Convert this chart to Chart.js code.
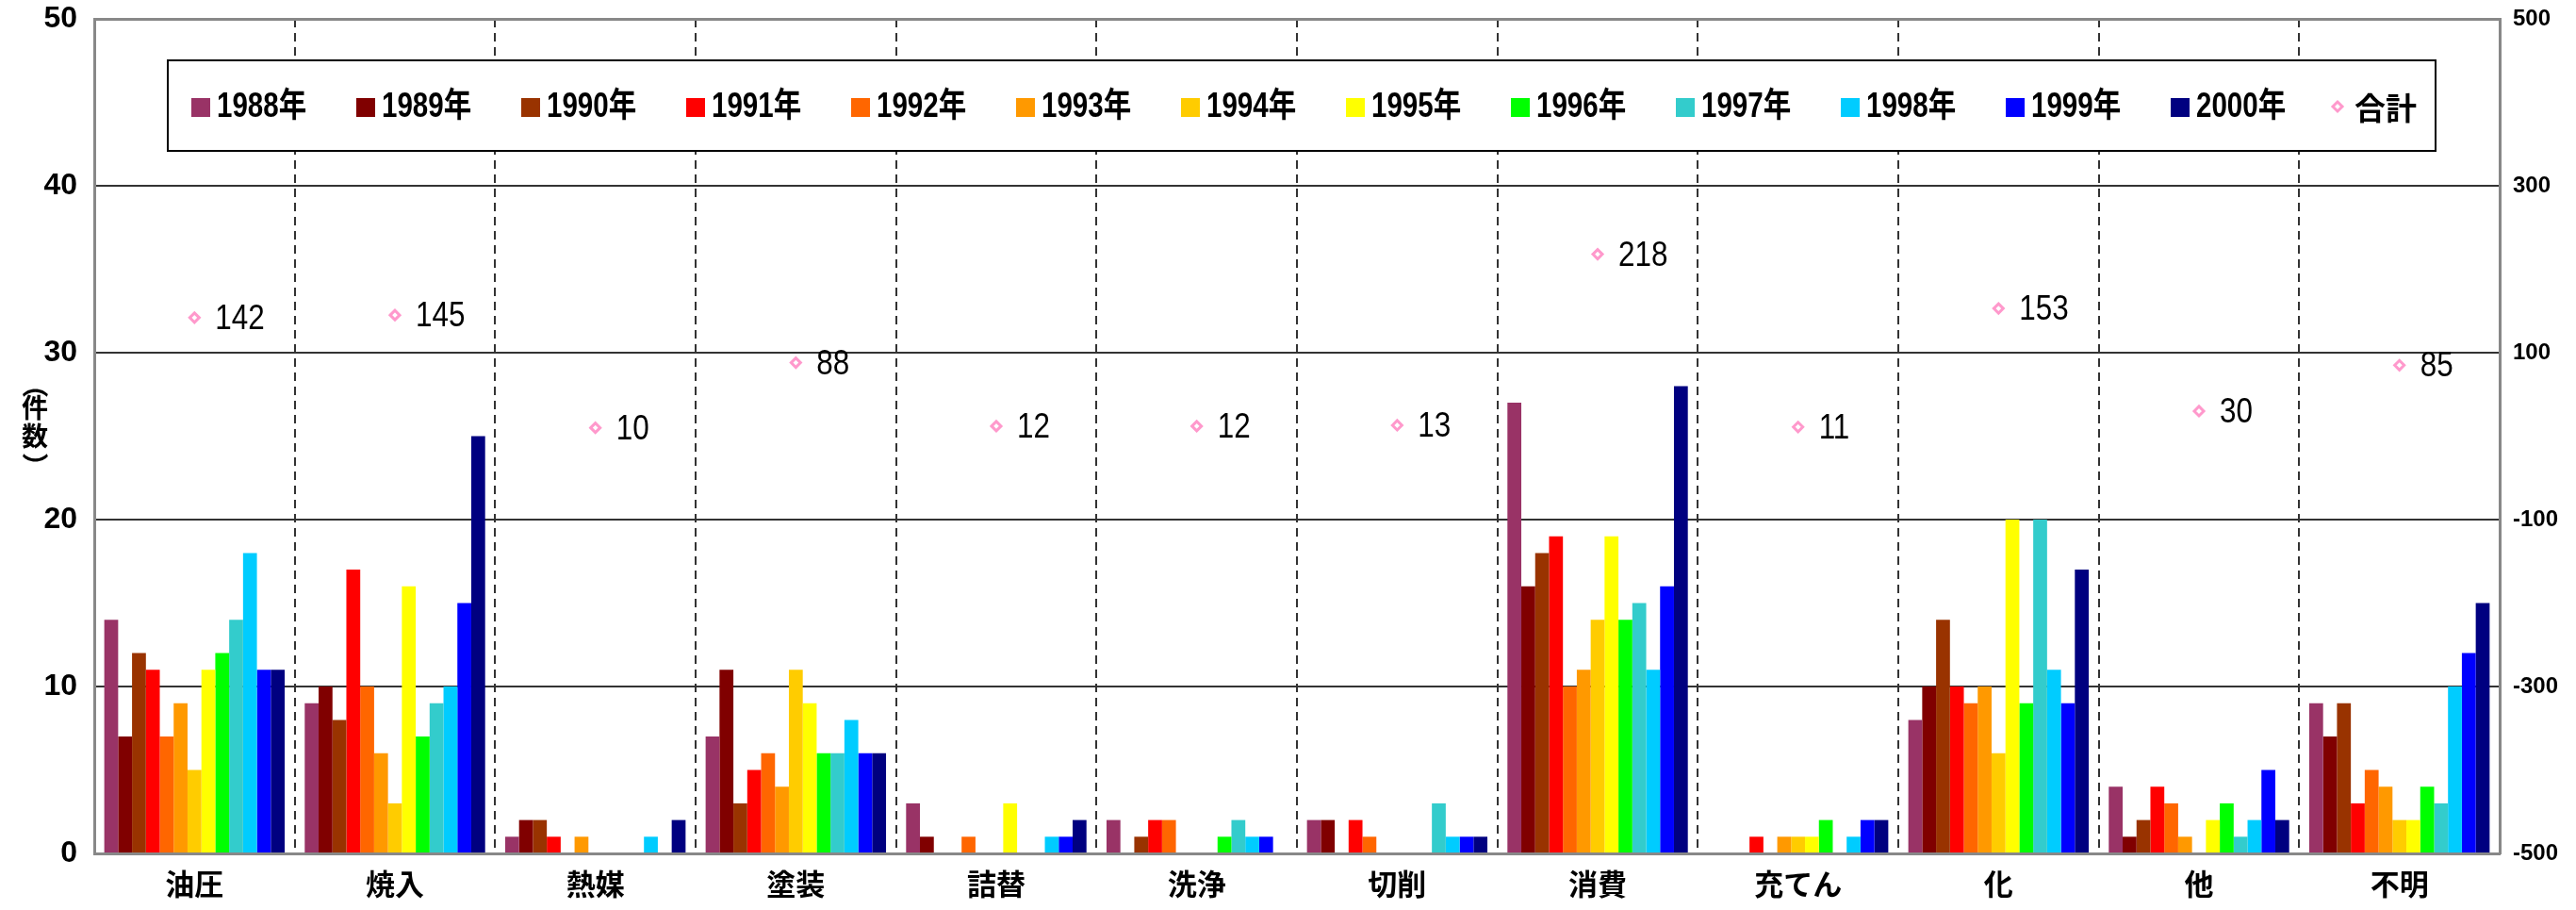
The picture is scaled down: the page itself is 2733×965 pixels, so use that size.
<!DOCTYPE html>
<html>
<head>
<meta charset="utf-8">
<script src="https://cdn.jsdelivr.net/npm/chart.js@4.4.0/dist/chart.umd.min.js"></script>
<style>
  body { margin: 0; background: #fff; }
  canvas { display: block; }
</style>
</head>
<body>
<canvas id="myChart" width="2733" height="965"></canvas>
<script>
// categories and series
const categories = ['油圧', '焼入', '熱媒', '塗装', '詰替', '洗浄', '切削', '消費', '充てん', '化', '他', '不明'];
const years = ['1988年', '1989年', '1990年', '1991年', '1992年', '1993年', '1994年', '1995年', '1996年', '1997年', '1998年', '1999年', '2000年'];
const yearColors = ['#993366', '#800000', '#993300', '#FF0000', '#FF6600', '#FF9900', '#FFCC00', '#FFFF00', '#00FF00', '#33CCCC', '#00CCFF', '#0000FF', '#000080'];

const y1988 = [14, 9, 1, 7, 3, 2, 2, 27, 0, 8, 4, 9];
const y1989 = [7, 10, 2, 11, 1, 0, 2, 16, 0, 10, 1, 7];
const y1990 = [12, 8, 2, 3, 0, 1, 0, 18, 0, 14, 2, 9];
const y1991 = [11, 17, 1, 5, 0, 2, 2, 19, 1, 10, 4, 3];
const y1992 = [7, 10, 0, 6, 1, 2, 1, 10, 0, 9, 3, 5];
const y1993 = [9, 6, 1, 4, 0, 0, 0, 11, 1, 10, 1, 4];
const y1994 = [5, 3, 0, 11, 0, 0, 0, 14, 1, 6, 0, 2];
const y1995 = [11, 16, 0, 9, 3, 0, 0, 19, 1, 20, 2, 2];
const y1996 = [12, 7, 0, 6, 0, 1, 0, 14, 2, 9, 3, 4];
const y1997 = [14, 9, 0, 6, 0, 2, 3, 15, 0, 20, 1, 3];
const y1998 = [18, 10, 1, 8, 1, 1, 1, 11, 1, 11, 2, 10];
const y1999 = [11, 15, 0, 6, 1, 1, 1, 16, 2, 9, 5, 12];
const y2000 = [11, 25, 2, 6, 2, 0, 1, 28, 2, 17, 2, 15];
const totals = [142, 145, 10, 88, 12, 12, 13, 218, 11, 153, 30, 85];

const leftTicks = [0, 10, 20, 30, 40, 50];
const rightTicks = [-500, -300, -100, 100, 300, 500];

const yearData = [y1988, y1989, y1990, y1991, y1992, y1993, y1994, y1995, y1996, y1997, y1998, y1999, y2000];

const numFont = '"Liberation Sans", Arial, sans-serif';
const cjkFont = '"Liberation Sans", "Noto Sans CJK JP", sans-serif';

const datasets = years.map((y, i) => ({
  type: 'bar',
  label: y,
  data: yearData[i],
  backgroundColor: yearColors[i],
  borderWidth: 0,
  categoryPercentage: 0.9,
  barPercentage: 1.0,
  yAxisID: 'y',
  order: 2
}));

datasets.push({
  type: 'line',
  label: '合計',
  data: totals,
  yAxisID: 'y1',
  showLine: false,
  pointStyle: 'rectRot',
  pointRadius: 5,
  pointBorderWidth: 3,
  pointBorderColor: '#FF99CC',
  pointBackgroundColor: '#FFFFFF',
  order: 1
});

// narrow-looking text
function narrowText(ctx, txt, x, y, sx) {
  ctx.save();
  ctx.translate(x, y);
  ctx.scale(sx, 1);
  ctx.fillText(txt, 0, 0);
  ctx.restore();
}

// legend box, y title and labels for totals
const extras = {
  id: 'extras',
  afterDatasetsDraw(chart) {
    const ctx = chart.ctx;
    ctx.save();

    // labels next to total points
    const meta = chart.getDatasetMeta(datasets.length - 1);
    ctx.fillStyle = '#000';
    ctx.font = '37px ' + numFont;
    ctx.textAlign = 'left';
    ctx.textBaseline = 'middle';
    meta.data.forEach((pt, i) => {
      narrowText(ctx, String(totals[i]), pt.x + 22, pt.y + 2, 0.85);
    });

    // legend
    ctx.fillStyle = '#fff';
    ctx.fillRect(178, 64, 2406, 96);
    ctx.strokeStyle = '#000';
    ctx.lineWidth = 2;
    ctx.strokeRect(178, 64, 2406, 96);
    ctx.font = 'bold 36px ' + cjkFont;
    ctx.textBaseline = 'middle';
    years.forEach((y, i) => {
      const x = 203 + i * 175;
      ctx.fillStyle = yearColors[i];
      ctx.fillRect(x, 104, 20, 20);
      ctx.fillStyle = '#000';
      narrowText(ctx, y, x + 27, 114, 0.82);
    });
    // 合計 marker
    const mx = 2480, my = 113;
    ctx.beginPath();
    ctx.moveTo(mx, my - 5); ctx.lineTo(mx + 5, my); ctx.lineTo(mx, my + 5); ctx.lineTo(mx - 5, my); ctx.closePath();
    ctx.fillStyle = '#fff';
    ctx.fill();
    ctx.strokeStyle = '#FF99CC';
    ctx.lineWidth = 3;
    ctx.stroke();
    ctx.fillStyle = '#000';
    ctx.font = 'bold 33px "Noto Sans CJK JP", sans-serif';
    ctx.fillText('合計', 2498, 114);

    // y title, stacked
    ctx.font = 'bold 28px "Noto Sans CJK JP", sans-serif';
    ctx.textAlign = 'center';
    ctx.fillText('件', 37, 432);
    ctx.fillText('数', 37, 462);
    ctx.save();
    ctx.translate(37, 408);
    ctx.rotate(Math.PI / 2);
    ctx.fillText('（', 0, 0);
    ctx.restore();
    ctx.save();
    ctx.translate(37, 494);
    ctx.rotate(Math.PI / 2);
    ctx.fillText('）', 0, 0);
    ctx.restore();

    ctx.restore();
  }
};

function fixV(w) {
  return s => { s.width = w; s.paddingTop = 0; s.paddingBottom = 0; };
}

const config = {
  data: { labels: categories, datasets },
  options: {
    responsive: false,
    devicePixelRatio: 1,
    animation: false,
    layout: { padding: { top: 20, left: 0, right: 0, bottom: 0 } },
    plugins: {
      legend: { display: false },
      tooltip: { enabled: false }
    },
    scales: {
      x: {
        offset: true,
        grid: { offset: true, color: '#333', lineWidth: 2, drawTicks: false },
        border: { display: true, color: '#888', width: 3, dash: [9, 6] },
        ticks: {
          color: '#000',
          font: { family: '"Noto Sans CJK JP", sans-serif', size: 31, weight: 'bold' },
          padding: 14
        },
        afterFit: s => { s.height = 60; s.paddingLeft = 0; s.paddingRight = 0; }
      },
      y: {
        position: 'left',
        min: 0,
        max: 50,
        afterBuildTicks: s => { s.ticks = leftTicks.map(v => ({ value: v })); },
        grid: {
          color: ctx => (ctx.tick && ctx.tick.value === 50) ? '#888' : '#333',
          lineWidth: ctx => (ctx.tick && ctx.tick.value === 50) ? 3 : 2,
          drawTicks: false
        },
        border: { display: true, color: '#888', width: 3 },
        ticks: {
          color: '#000',
          font: { family: numFont, size: 32, weight: 'bold' },
          padding: 18
        },
        afterFit: fixV(100)
      },
      y1: {
        position: 'right',
        min: -500,
        max: 500,
        afterBuildTicks: s => { s.ticks = rightTicks.map(v => ({ value: v })); },
        grid: { drawOnChartArea: false, drawTicks: false },
        border: { display: true, color: '#888', width: 3 },
        ticks: {
          color: '#000',
          font: { family: numFont, size: 24, weight: 'bold' },
          padding: 14
        },
        afterFit: fixV(81)
      }
    }
  },
  plugins: [extras]
};

const myChart = new Chart(document.getElementById('myChart'), config);
</script>
</body>
</html>
